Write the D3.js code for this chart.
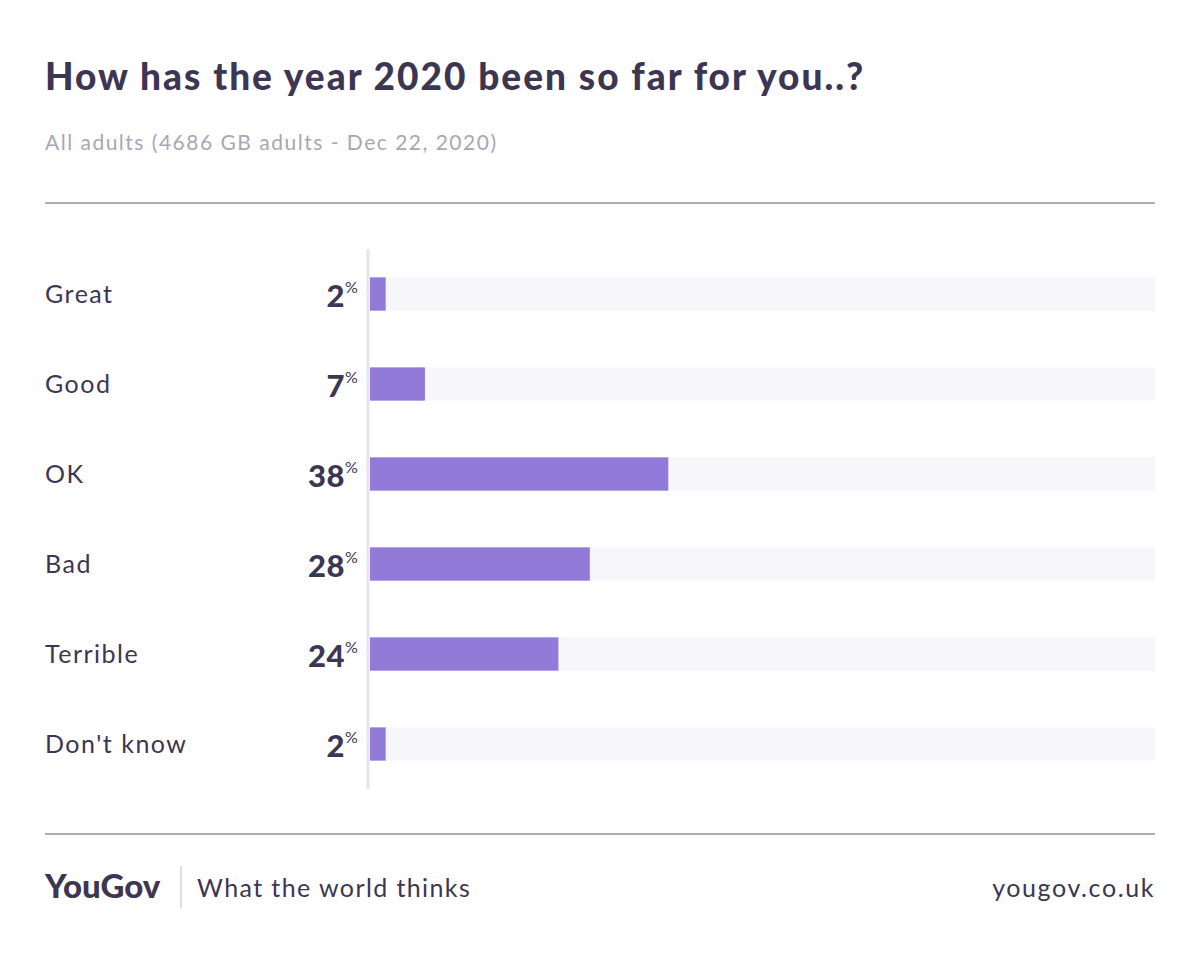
<!DOCTYPE html>
<html><head><meta charset="utf-8">
<script src="https://cdn.jsdelivr.net/npm/d3@7/dist/d3.min.js"></script>
<style>body{margin:0;background:#fff;} svg{display:block;font-family:Lato,"Open Sans",sans-serif;}</style>
</head><body>
<script>
const categories = ["Great","Good","OK","Bad","Terrible","Don't know"];
const values = [2,7,38,28,24,2];
const title = "How has the year 2020 been so far for you..?";
const subtitle = "All adults (4686 GB adults - Dec 22, 2020)";

const W=1200,H=954;
const dark="#3d3652";
const svg=d3.select("body").append("svg").attr("width",W).attr("height",H);

svg.append("text").attr("x",45).attr("y",90).attr("font-size",37).attr("font-weight",900).attr("letter-spacing",2).attr("fill",dark).text(title);
svg.append("text").attr("x",45).attr("y",150).attr("font-size",21).attr("letter-spacing",1.5).attr("fill","#a9a6b6").text(subtitle);
svg.append("line").attr("x1",45).attr("x2",1155).attr("y1",203).attr("y2",203).attr("stroke","#aeacbc").attr("stroke-width",2);

const x=d3.scaleLinear().domain([0,100]).range([370,1155]);
const y=d3.scaleBand().domain(categories).range([249,789]).paddingInner(0.63).paddingOuter(0.315);

const g=svg.append("g");
g.selectAll(".track").data(categories).join("rect")
 .attr("x",x(0)).attr("width",x(100)-x(0)).attr("y",d=>y(d)).attr("height",y.bandwidth()).attr("fill","#f7f6fb");
g.selectAll(".bar").data(values).join("rect")
 .attr("x",x(0)).attr("width",d=>x(d)-x(0)).attr("y",(d,i)=>y(categories[i])).attr("height",y.bandwidth()).attr("fill","#927bd8");
svg.append("line").attr("x1",368).attr("x2",368).attr("y1",249).attr("y2",789).attr("stroke","#e6e4f0").attr("stroke-width",3);

g.selectAll(".lab").data(categories).join("text")
 .attr("x",45).attr("y",d=>y(d)+y.bandwidth()/2+9).attr("font-size",25).attr("letter-spacing",1.5).attr("fill",dark).text(d=>d);
g.selectAll(".val").data(values).join("text")
 .attr("x",345).attr("y",(d,i)=>y(categories[i])+y.bandwidth()/2+13).attr("text-anchor","end")
 .attr("font-size",31).attr("font-weight",900).attr("letter-spacing",0.5).attr("fill",dark).text(d=>d);
g.selectAll(".pct").data(values).join("text")
 .attr("x",345).attr("y",(d,i)=>y(categories[i])+y.bandwidth()/2-1).attr("font-size",16).attr("fill",dark).text("%");

svg.append("line").attr("x1",45).attr("x2",1155).attr("y1",834).attr("y2",834).attr("stroke","#aeacbc").attr("stroke-width",2);
svg.append("text").attr("x",45).attr("y",898).attr("font-size",33).attr("font-weight",900).attr("letter-spacing",0).attr("fill",dark).text("YouGov");
svg.append("line").attr("x1",181).attr("x2",181).attr("y1",866).attr("y2",908).attr("stroke","#d5d3dc").attr("stroke-width",1.5);
svg.append("text").attr("x",197).attr("y",897).attr("font-size",25).attr("letter-spacing",1.4).attr("fill",dark).text("What the world thinks");
svg.append("text").attr("x",1155).attr("y",897).attr("text-anchor","end").attr("font-size",25).attr("letter-spacing",1.6).attr("fill",dark).text("yougov.co.uk");
</script>
</body></html>
